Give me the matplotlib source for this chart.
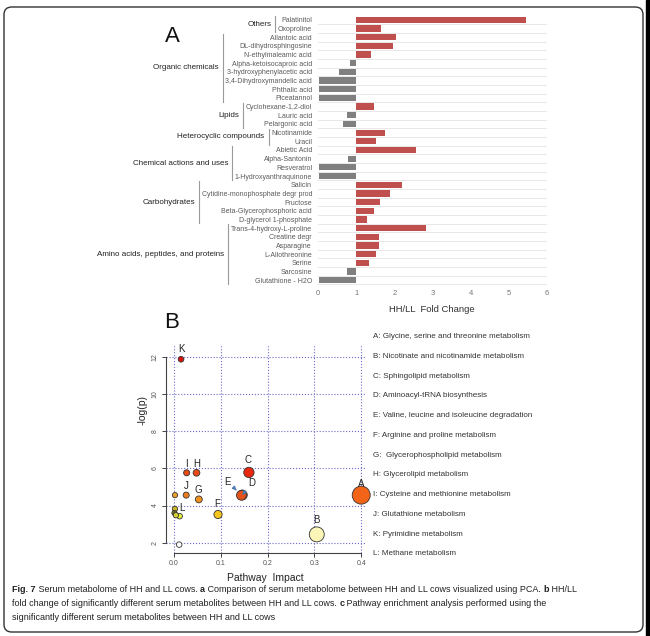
import matplotlib
matplotlib.use("Agg")
import matplotlib.pyplot as plt
import matplotlib.transforms as mtransforms
from matplotlib.patches import FancyBboxPatch, Rectangle
import numpy as np

plt.rcParams['font.family'] = ['Liberation Sans', 'DejaVu Sans']

# ---- panel A data: HH/LL fold change ----
metabolites = ["Palatinitol", "Oxoproline", "Allantoic acid", "DL-dihydrosphingosine",
               "N-ethylmaleamic acid", "Alpha-ketoisocaproic acid", "3-hydroxyphenylacetic acid",
               "3,4-Dihydroxymandelic acid", "Phthalic acid", "Piceatannol",
               "Cyclohexane-1,2-diol", "Lauric acid", "Pelargonic acid",
               "Nicotinamide", "Uracil",
               "Abietic Acid", "Alpha-Santonin", "Resveratrol", "1-Hydroxyanthraquinone",
               "Salicin", "Cytidine-monophosphate degr prod", "Fructose",
               "Beta-Glycerophosphoric acid", "D-glycerol 1-phosphate",
               "Trans-4-hydroxy-L-proline", "Creatine degr", "Asparagine", "L-Allothreonine",
               "Serine", "Sarcosine", "Glutathione - H2O"]
fold_change = [5.45, 1.64, 2.03, 1.97, 1.38, 0.83, 0.54, 0.02, 0.02, 0.02,
               1.47, 0.75, 0.66, 1.74, 1.51,
               2.56, 0.77, 0.02, 0.02,
               2.20, 1.89, 1.61, 1.47, 1.29,
               2.83, 1.59, 1.59, 1.51, 1.32, 0.76, 0.01]
groups = ["Others", "Organic chemicals", "Lipids", "Heterocyclic compounds",
          "Chemical actions and uses", "Carbohydrates", "Amino acids, peptides, and proteins"]
group_sizes = [2, 8, 3, 2, 4, 5, 7]

# ---- panel B data: pathway analysis ----
pathway_ids = ["A", "B", "C", "D", "E", "F", "G", "H", "I", "J", "K", "L", "", "", "", "", ""]
impact = [0.40, 0.305, 0.16, 0.146, 0.144, 0.094, 0.053, 0.048, 0.027, 0.026, 0.015, 0.012,
          0.002, 0.002, 0.001, 0.004, 0.011]
neg_log_p = [4.56, 2.45, 5.78, 4.57, 4.55, 3.52, 4.33, 5.76, 5.76, 4.56, 11.86, 3.43,
             4.56, 3.82, 3.60, 3.48, 1.90]
point_colors = ["#f26418", "#fbf6b8", "#e8280e", "#e5531c", "#e5531c", "#f6c51d", "#f0901e",
                "#ea4a16", "#ea4a16", "#ec7d1e", "#d4160f", "#e6ef3a",
                "#eaa02a", "#cdb52c", "#6b6a1f", "#d8cf36", "#ffffff"]
pathway_names = ["A: Glycine, serine and threonine metabolism",
                 "B: Nicotinate and nicotinamide metabolism",
                 "C: Sphingolipid metabolism",
                 "D: Aminoacyl-tRNA biosynthesis",
                 "E: Valine, leucine and isoleucine degradation",
                 "F: Arginine and proline metabolism",
                 "G:  Glycerophospholipid metabolism",
                 "H: Glycerolipid metabolism",
                 "I: Cysteine and methionine metabolism",
                 "J: Glutathione metabolism",
                 "K: Pyrimidine metabolism",
                 "L: Methane metabolism"]
# label offsets in pixels (dx, dy) for letters above the points
label_offsets = {"A": (0, 11), "B": (0, 14), "C": (-1, 12), "F": (-1, 10), "G": (-1, 9),
                 "H": (0, 8.5), "I": (0, 8.5), "J": (0, 9), "K": (0, 10), "L": (2, 8)}

W, H = 650, 636
fig = plt.figure(figsize=(W / 100, H / 100), dpi=100)

# ---------------- panel A ----------------
axA = fig.add_axes([318.3 / W, 1 - 284.5 / H, 228.4 / W, 269 / H])
n = len(metabolites)
rows = np.arange(n)
vals = np.array(fold_change)
bar_colors = ["#c0504d" if v > 1 else "#808080" for v in vals]
for b in np.arange(-0.5, n, 1):
    axA.axhline(b, color="#e4e4e4", lw=0.6, zorder=0)
axA.barh(rows, vals - 1, left=1, height=0.72, color=bar_colors, zorder=2)
axA.set_xlim(0, 6)
axA.set_ylim(n - 0.5, -0.5)
axA.set_xticks(range(7))
axA.set_yticks(rows)
axA.set_yticklabels(metabolites)
axA.tick_params(axis="x", length=0, labelsize=5.5, labelcolor="#777777", pad=4.3)
axA.tick_params(axis="y", length=0, labelsize=5, labelcolor="#5a5a5a", pad=4.5)
for s in axA.spines.values():
    s.set_visible(False)
fig.text(432 / W, 1 - 309 / H, "HH/LL  Fold Change", ha="center", va="center",
         fontsize=6.8, color="#333333")
fig.text(172 / W, 1 - 37 / H, "A", ha="center", va="center", fontsize=16, color="#111111")

# group brackets
fig.canvas.draw()
renderer = fig.canvas.get_renderer()
ticklabels = axA.get_yticklabels()
blend = mtransforms.blended_transform_factory(fig.transFigure, axA.transData)
start = 0
for g, size in zip(groups, group_sizes):
    idx = range(start, start + size)
    left = min(ticklabels[i].get_window_extent(renderer).x0 for i in idx)
    bx = (left - 2.5) / W
    axA.plot([bx, bx], [start - 0.42, start + size - 1 + 0.42], color="#9a9a9a", lw=0.8,
             transform=blend, clip_on=False)
    axA.text(bx - 4 / W, start + (size - 1) / 2, g, transform=blend, ha="right", va="center",
             fontsize=5.8, color="#222222")
    start += size

# ---------------- panel B ----------------
axB = fig.add_axes([165.6 / W, 1 - 553 / H, 200.3 / W, 207.5 / H])
axB.set_xlim(-0.018, 0.41)
axB.set_ylim(1.45, 12.6)
axB.set_xticks([0, 0.1, 0.2, 0.3, 0.4])
axB.set_xticklabels(["0.0", "0.1", "0.2", "0.3", "0.4"])
axB.set_yticks([2, 4, 6, 8, 10, 12])
axB.grid(True, ls=":", color="#6a6acb", lw=0.8)
axB.set_axisbelow(True)
for s in ["top", "right"]:
    axB.spines[s].set_visible(False)
axB.spines["left"].set_bounds(2, 12)
axB.spines["bottom"].set_bounds(0, 0.4)
for s in ["left", "bottom"]:
    axB.spines[s].set_color("#444444")
    axB.spines[s].set_linewidth(0.8)
axB.tick_params(length=3, width=0.7, color="#444444", labelsize=5, labelcolor="#555555", pad=2)
for t in axB.get_yticklabels():
    t.set_rotation(90)
    t.set_va("center")

imp = np.array(impact)
radius_px = 2.6 + 16 * imp
sizes = (2 * radius_px / 1.389) ** 2
axB.scatter(imp, neg_log_p, s=sizes, c=point_colors, edgecolors="#333333", linewidths=0.6,
            zorder=3, clip_on=False)
for pid, x, y in zip(pathway_ids, impact, neg_log_p):
    if pid in label_offsets:
        dx, dy = label_offsets[pid]
        axB.annotate(pid, (x, y), xytext=(dx, dy), textcoords="offset pixels",
                     ha="center", va="center", fontsize=7, color="#222222")
iD, iE = pathway_ids.index("D"), pathway_ids.index("E")
axB.annotate("E", (impact[iE], neg_log_p[iE]), xytext=(0.115, 5.28), ha="center", va="center",
             fontsize=7, color="#222222",
             arrowprops=dict(arrowstyle="-|>", color="#4a7ab0", lw=1.0, mutation_scale=5,
                             shrinkA=2, shrinkB=5))
axB.annotate("D", (impact[iD], neg_log_p[iD]), xytext=(0.166, 5.19), ha="center", va="center",
             fontsize=7, color="#222222",
             arrowprops=dict(arrowstyle="-|>", color="#4a7ab0", lw=1.0, mutation_scale=5,
                             shrinkA=2, shrinkB=5))

fig.text(265 / W, 1 - 578 / H, "Pathway  Impact", ha="center", va="center", fontsize=7.5,
         color="#222222")
fig.text(143 / W, 1 - 410 / H, "-log(p)", ha="center", va="center", rotation=90,
         fontsize=7.5, color="#222222")
fig.text(172 / W, 1 - 322 / H, "B", ha="center", va="center", fontsize=16, color="#111111")

for i, name in enumerate(pathway_names):
    fig.text(373 / W, 1 - (336.7 + 19.75 * i) / H, name, ha="left", va="center",
             fontsize=5.8, color="#333333")

# ---------------- caption ----------------
caption = [
    [("Fig. 7", True), (" Serum metabolome of HH and LL cows. ", False), ("a", True),
     (" Comparison of serum metabolome between HH and LL cows visualized using PCA. ", False),
     ("b", True), (" HH/LL", False)],
    [("fold change of significantly different serum metabolites between HH and LL cows. ", False),
     ("c", True), (" Pathway enrichment analysis performed using the", False)],
    [("significantly different serum metabolites between HH and LL cows", False)],
]
for li, line in enumerate(caption):
    x = 12.0
    y = 590 + 14 * li
    for txt, bold in line:
        t = fig.text(x / W, 1 - y / H, txt, ha="left", va="center", fontsize=6.5,
                     fontweight="bold" if bold else "normal", color="#222222")
        x = t.get_window_extent(renderer).x1

# border
fig.patches.append(FancyBboxPatch((4 / W, 1 - 632 / H), 639 / W, 625 / H,
                                  boxstyle="round,pad=0,rounding_size=0.012",
                                  transform=fig.transFigure, fill=False, ec="#333333", lw=1.0))
fig.patches.append(Rectangle((646 / W, 0), 4 / W, 1, transform=fig.transFigure,
                             color="black"))

fig.savefig("out.png", dpi=100)
